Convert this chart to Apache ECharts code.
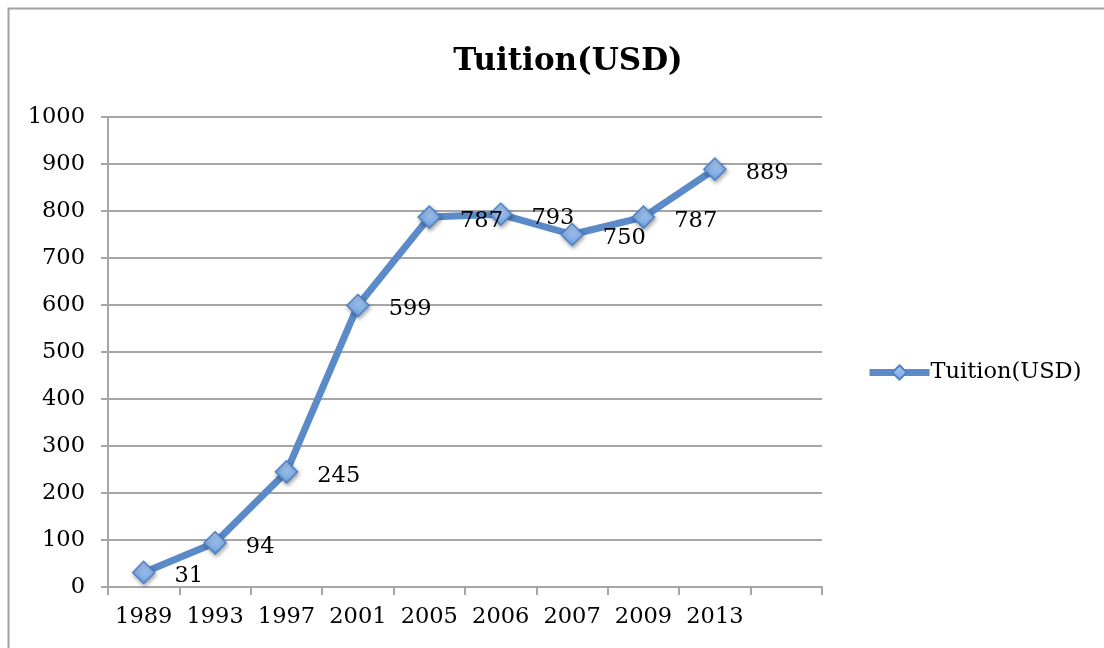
<!DOCTYPE html>
<html>
<head>
<meta charset="utf-8">
<script src="https://cdn.jsdelivr.net/npm/echarts@6/dist/echarts.min.js"></script>
<style>
  html, body { margin: 0; padding: 0; background: #fff; }
  #chart { width: 1104px; height: 648px; }
</style>
</head>
<body>
<div id="chart"></div>
<script>
// Tuition by year (USD)
const years = ['1989', '1993', '1997', '2001', '2005', '2006', '2007', '2009', '2013', ''];
const tuition = [31, 94, 245, 599, 787, 793, 750, 787, 889];
const yTicks = [0, 100, 200, 300, 400, 500, 600, 700, 800, 900, 1000];

const seriesName = 'Tuition(USD)';
const serif = '"DejaVu Serif", "Liberation Serif", serif';
const textSize = 22.5;
const lineBlue = '#5a8ac8';
const gridGrey = '#a6a6a6';

const chart = echarts.init(document.getElementById('chart'));

const markerFill = new echarts.graphic.LinearGradient(0, 0, 0, 1, [
  { offset: 0, color: '#afcdf3' },
  { offset: 1, color: '#72a4e3' }
]);

chart.setOption({
  animation: false,
  backgroundColor: '#fff',
  textStyle: { fontFamily: serif, color: '#000' },
  title: {
    text: 'Tuition(USD)',
    left: 563,
    textAlign: 'center',
    top: 41,
    textStyle: { fontFamily: serif, fontSize: 31, fontWeight: 'bold', color: '#000' }
  },
  legend: {
    left: 866,
    top: 361,
    padding: 0,
    itemWidth: 60,
    itemHeight: 18,
    itemGap: 0,
    textStyle: { fontFamily: serif, fontSize: textSize, color: '#000', padding: [0, 0, 0, -4] },
    lineStyle: { width: 7, color: lineBlue },
    data: [{ name: seriesName }]
  },
  graphic: [{
    type: 'rect',
    shape: { x: 8.5, y: 8.5, width: 1110, height: 660 },
    style: { fill: 'none', stroke: '#a0a0a0', lineWidth: 2 },
    silent: true
  }],
  grid: { left: 108, right: 282, top: 117, bottom: 61 },
  xAxis: {
    type: 'category',
    data: years,
    boundaryGap: true,
    axisLine: { lineStyle: { color: gridGrey, width: 2 } },
    axisTick: { show: true, length: 8, interval: 0, lineStyle: { color: gridGrey, width: 2 } },
    axisLabel: { interval: 0, margin: 19, fontFamily: serif, fontSize: textSize, color: '#000' },
    splitLine: { show: false }
  },
  yAxis: {
    type: 'value',
    min: yTicks[0],
    max: yTicks[yTicks.length - 1],
    interval: yTicks[1] - yTicks[0],
    axisLine: { show: true, lineStyle: { color: gridGrey, width: 2 } },
    axisTick: { show: true, length: 7, lineStyle: { color: gridGrey, width: 2 } },
    axisLabel: {
      margin: 23,
      fontFamily: serif,
      fontSize: textSize,
      color: '#000',
      formatter: (v) => String(v)
    },
    splitLine: { show: true, lineStyle: { color: gridGrey, width: 2 } }
  },
  series: [{
    name: seriesName,
    type: 'line',
    data: tuition,
    symbol: 'diamond',
    symbolSize: 22,
    lineStyle: { color: lineBlue, width: 7 },
    itemStyle: {
      color: markerFill,
      borderColor: '#4d82c9',
      borderWidth: 1.5,
      shadowColor: 'rgba(0,0,0,0.35)',
      shadowBlur: 4,
      shadowOffsetX: 1,
      shadowOffsetY: 2
    },
    label: {
      show: true,
      position: 'right',
      distance: 19,
      offset: [0, 4],
      fontFamily: serif,
      fontSize: textSize,
      color: '#000'
    },
    z: 3
  }]
});
</script>
</body>
</html>
